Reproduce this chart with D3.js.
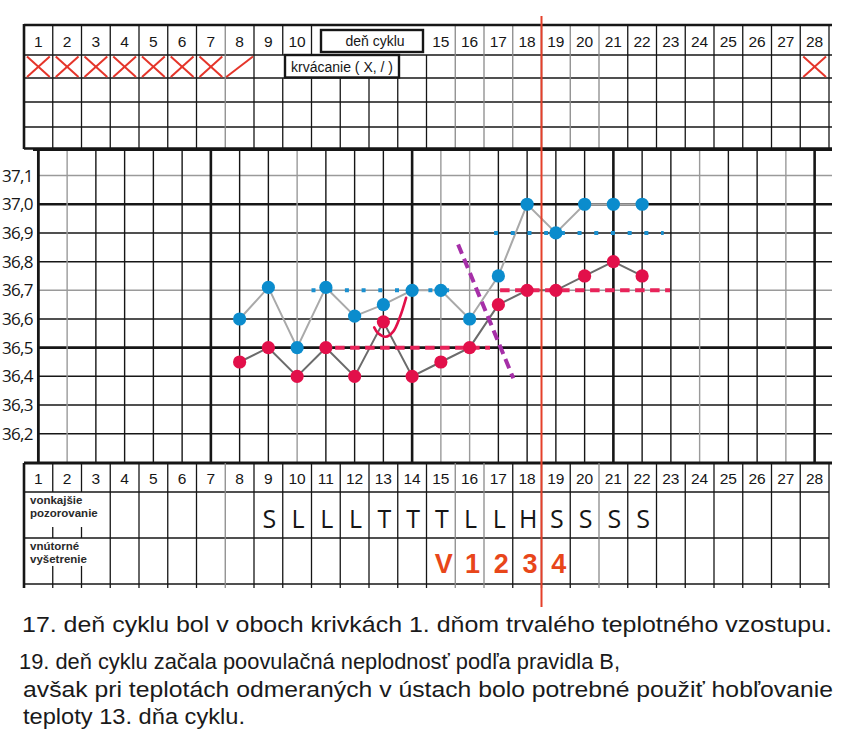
<!DOCTYPE html>
<html><head><meta charset="utf-8">
<script src="https://cdn.jsdelivr.net/npm/d3@7"></script>
<style>html,body{margin:0;padding:0;background:#fff}svg{display:block}</style>
</head><body><svg id="c" width="862" height="731"></svg>
<script>
// ---------- DATA ----------
const days = d3.range(1, 29);
const bleedDays = [1, 2, 3, 4, 5, 6, 7, 8, 28];
const bleedMarks = ["X", "X", "X", "X", "X", "X", "X", "/", "X"];
const tempTicks = [36.2, 36.3, 36.4, 36.5, 36.6, 36.7, 36.8, 36.9, 37.0, 37.1];
const measDays = [8, 9, 10, 11, 12, 13, 14, 15, 16, 17, 18, 19, 20, 21, 22];
const blueTemps = [36.6, 36.71, 36.5, 36.71, 36.61, 36.65, 36.7, 36.7, 36.6, 36.75, 37.0, 36.9, 37.0, 37.0, 37.0];
const redTemps = [36.45, 36.5, 36.4, 36.5, 36.4, 36.59, 36.4, 36.45, 36.5, 36.65, 36.7, 36.7, 36.75, 36.8, 36.75];
const blueCover = [[10.5, 15.72, 36.7], [16.85, 22.75, 36.9]];
const redCover = [[10.8, 16.71, 36.5], [17.06, 22.97, 36.7]];
const purpleLine = [[15.6, 36.86], [17.52, 36.393]];
const hook = [[13.79, 36.674], [13.58, 36.608], [13.34, 36.556], [13.08, 36.538], [12.82, 36.55], [12.68, 36.571]];
const obsDays = [9, 10, 11, 12, 13, 14, 15, 16, 17, 18, 19, 20, 21, 22];
const obsLabels = ["S", "L", "L", "L", "T", "T", "T", "L", "L", "H", "S", "S", "S", "S"];
const intDays = [15, 16, 17, 18, 19];
const intLabels = ["V", "1", "2", "3", "4"];
const ruleDay = 18.5;
const notes = [
  "17. deň cyklu bol v oboch krivkách 1. dňom trvalého teplotného vzostupu.",
  "19. deň cyklu začala poovulačná neplodnosť podľa pravidla B,",
  "avšak pri teplotách odmeraných v ústach bolo potrebné použiť hobľovanie",
  "teploty 13. dňa cyklu."
];

// ---------- SCALES ----------
const svg = d3.select("#c");
const x = d3.scaleLinear().domain([0.5, 28.5]).range([24, 829]);
const y = d3.scaleLinear().domain([36.1, 37.2]).range([462.4, 146.9]);
const AR = "'Liberation Sans', Arial, sans-serif";
const OS = "'Open Sans', sans-serif";
const BLK = "#161616", GRY = "#9a9a9a";

svg.append("rect").attr("width", 862).attr("height", 731).attr("fill", "#fff");

function hline(g, x1, x2, yy, w, c) { g.append("line").attr("x1", x1).attr("x2", x2).attr("y1", yy).attr("y2", yy).attr("stroke", c || BLK).attr("stroke-width", w); }
function vline(g, xx, y1, y2, w, c) { g.append("line").attr("x1", xx).attr("x2", xx).attr("y1", y1).attr("y2", y2).attr("stroke", c || BLK).attr("stroke-width", w); }

// ---------- TOP TABLE ----------
const topG = svg.append("g");
const grayTopCols = [7, 15, 16, 17, 19, 20];
[55, 78, 102, 127].forEach(r => hline(topG, 24, 832, r, 1.3));
d3.range(1, 29).forEach(i => {
  const xx = x(i + 0.5);
  const c = grayTopCols.includes(i) ? "#8a8a8a" : BLK;
  if (i >= 10 && i <= 13) {
    if (i === 10) vline(topG, xx, 25, 55, 1.3, c);
    vline(topG, xx, 78, 148, 1.3, c);
  } else if (i === 14) {
    vline(topG, xx, 55, 148, 1.3, c);
  } else if (i === 9) {
    vline(topG, xx, 25, 55, 1.3, c); vline(topG, xx, 78, 148, 1.3, c);
  } else vline(topG, xx, 25, 148, 1.3, c);
});
hline(topG, 24, 832, 25, 2.6);
hline(topG, 24, 832, 148.5, 2.6);
vline(topG, 24, 24, 149, 2.6);
days.filter(d => d <= 10 || d >= 15).forEach(d => {
  topG.append("text").attr("x", x(d)).attr("y", 46.5).attr("text-anchor", "middle")
    .attr("font-family", AR).attr("font-size", 15.5).attr("fill", BLK).text(d);
});
topG.append("rect").attr("x", 321).attr("y", 30).attr("width", 102).attr("height", 22)
  .attr("fill", "#fff").attr("stroke", BLK).attr("stroke-width", 2.4);
topG.append("text").attr("x", 375).attr("y", 46).attr("text-anchor", "middle")
  .attr("font-family", AR).attr("font-size", 14).attr("fill", BLK).text("deň cyklu");
topG.append("rect").attr("x", 285).attr("y", 55).attr("width", 114).attr("height", 22.5)
  .attr("fill", "#fff").attr("stroke", BLK).attr("stroke-width", 2.4);
topG.append("text").attr("x", 342).attr("y", 71.5).attr("text-anchor", "middle")
  .attr("font-family", AR).attr("font-size", 14).attr("fill", BLK).text("krvácanie ( X, / )");
const XC = "#e5352a";
bleedDays.forEach((d, i) => {
  const x0 = x(d - 0.5) + 3, x1 = x(d + 0.5) - 3, y0 = 56.5, y1 = 77;
  if (bleedMarks[i] === "X") {
    topG.append("line").attr("x1", x0).attr("y1", y0).attr("x2", x1).attr("y2", y1).attr("stroke", XC).attr("stroke-width", 2);
    topG.append("line").attr("x1", x0).attr("y1", y1).attr("x2", x1).attr("y2", y0).attr("stroke", XC).attr("stroke-width", 2);
  } else {
    topG.append("line").attr("x1", x0 - 2).attr("y1", y1).attr("x2", x1 + 2).attr("y2", y0).attr("stroke", XC).attr("stroke-width", 2);
  }
});

// ---------- CHART GRID ----------
const grid = svg.append("g");
tempTicks.forEach(t => {
  const thick = Math.abs(t - 37.0) < 1e-6 || Math.abs(t - 36.5) < 1e-6;
  const gray = Math.abs(t - 37.1) < 1e-6 || Math.abs(t - 36.7) < 1e-6;
  hline(grid, 39, 832, y(t), thick ? 2.6 : 1.5, gray ? GRY : BLK);
});
const grayDays = [2, 10, 15, 16, 24, 27];
days.forEach(d => {
  if (d === 1) return;
  const thick = d % 7 === 0;
  vline(grid, x(d), 149, 463, thick ? 2.6 : 1.4, grayDays.includes(d) ? GRY : BLK);
});
hline(grid, 33, 832, 149.5, 2.8);
vline(grid, x(1), 149, 463, 2.8);
tempTicks.forEach(t => {
  grid.append("text").attr("x", 2).attr("y", y(t) + 6).attr("font-family", OS)
    .attr("font-size", 17).attr("letter-spacing", -0.7).attr("fill", BLK)
    .text(t.toFixed(1).replace(".", ","));
});

// ---------- CURVES ----------
const plot = svg.append("g");
const blueData = measDays.map((d, i) => [d, blueTemps[i]]);
const redData = measDays.map((d, i) => [d, redTemps[i]]);
const line = d3.line().x(p => x(p[0])).y(p => y(p[1]));
plot.append("path").attr("d", line(blueData)).attr("fill", "none").attr("stroke", "#a9a9a9").attr("stroke-width", 2);
plot.append("path").attr("d", line(redData)).attr("fill", "none").attr("stroke", "#6b6b6b").attr("stroke-width", 2);
blueCover.forEach(c => plot.append("line").attr("x1", x(c[0])).attr("x2", x(c[1])).attr("y1", y(c[2])).attr("y2", y(c[2]))
  .attr("stroke", "#1a90d0").attr("stroke-width", 4).attr("stroke-dasharray", "4,12.7"));
redCover.forEach(c => plot.append("line").attr("x1", x(c[0])).attr("x2", x(c[1])).attr("y1", y(c[2])).attr("y2", y(c[2]))
  .attr("stroke", "#e8245a").attr("stroke-width", 4).attr("stroke-dasharray", "9.5,5.5"));
plot.selectAll("circle.b").data(blueData).join("circle").attr("class", "b")
  .attr("cx", p => x(p[0])).attr("cy", p => y(p[1])).attr("r", 6.6).attr("fill", "#0b8ccd");
plot.selectAll("circle.r").data(redData).join("circle").attr("class", "r")
  .attr("cx", p => x(p[0])).attr("cy", p => y(p[1])).attr("r", 6.6).attr("fill", "#e2104a");
plot.append("path").attr("d", line(purpleLine)).attr("fill", "none").attr("stroke", "#a62fa8")
  .attr("stroke-width", 4).attr("stroke-dasharray", "10,5.5");
plot.append("path").attr("d", d3.line().x(p => x(p[0])).y(p => y(p[1])).curve(d3.curveCatmullRom)(hook))
  .attr("fill", "none").attr("stroke", "#e2104a").attr("stroke-width", 2.6).attr("stroke-linecap", "round");

// ---------- BOTTOM TABLE ----------
const bot = svg.append("g");
hline(bot, 24, 832, 463, 2.8);
hline(bot, 24, 829, 492, 1.3);
hline(bot, 24, 829, 538, 1.3);
hline(bot, 24, 829, 584, 1.3);
vline(bot, 24, 463, 588, 2.6);
const grayBotCols = [7, 15, 16, 20];
d3.range(1, 29).forEach(i => {
  const xx = x(i + 0.5);
  const c = grayBotCols.includes(i) ? "#8a8a8a" : BLK;
  if (i === 1 || i === 2) {
    vline(bot, xx, 463, 492, 1.3, c);
    vline(bot, xx, 527, 538, 1.3, c);
    vline(bot, xx, 566, 588, 1.3, c);
  } else vline(bot, xx, 463, 588, 1.3, c);
});
days.forEach(d => {
  bot.append("text").attr("x", x(d)).attr("y", 484).attr("text-anchor", "middle")
    .attr("font-family", AR).attr("font-size", 15.5).attr("fill", BLK).text(d);
});
[["vonkajšie", 503.5], ["pozorovanie", 517], ["vnútorné", 549.5], ["vyšetrenie", 563]].forEach(t => {
  bot.append("text").attr("x", 30).attr("y", t[1]).attr("font-family", AR).attr("font-weight", "bold")
    .attr("font-size", 11.5).attr("fill", "#2a2a2a").text(t[0]);
});
obsDays.forEach((d, i) => {
  bot.append("text").attr("x", x(d) + 1).attr("y", 528).attr("text-anchor", "middle")
    .attr("font-family", OS).attr("font-size", 25).attr("fill", BLK).text(obsLabels[i]);
});
intDays.forEach((d, i) => {
  bot.append("text").attr("x", x(d) + 3).attr("y", 573).attr("text-anchor", "middle")
    .attr("font-family", AR).attr("font-weight", "bold").attr("font-size", 27).attr("fill", "#e8461a").text(intLabels[i]);
});

// ---------- RULE LINE ----------
svg.append("line").attr("x1", x(ruleDay)).attr("x2", x(ruleDay)).attr("y1", 16).attr("y2", 607)
  .attr("stroke", "#e5402a").attr("stroke-width", 2);

// ---------- NOTES ----------
const noteLayout = [[22, 632, 810], [19, 669, 601], [23, 697, 810], [23, 724, 222]];
notes.forEach((t, i) => {
  svg.append("text").attr("x", noteLayout[i][0]).attr("y", noteLayout[i][1])
    .attr("font-family", AR).attr("font-size", 22).attr("fill", "#1a1a1a")
    .attr("textLength", noteLayout[i][2]).attr("lengthAdjust", "spacingAndGlyphs").text(t);
});
</script></body></html>
